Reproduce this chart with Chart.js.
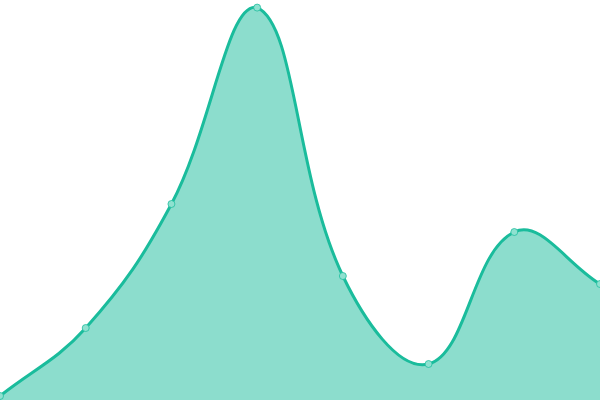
<!DOCTYPE html>
<html>
<head>
<meta charset="utf-8">
<script src="https://cdn.jsdelivr.net/npm/chart.js@4"></script>
<style>
html,body{margin:0;padding:0;background:#fff;}
#wrap{width:600px;height:400px;}
</style>
</head>
<body>
<div id="wrap"><canvas id="c"></canvas></div>
<script>
const categories = ["1","2","3","4","5","6","7","8"];
const values = [1, 18, 49, 98.1, 31, 9, 42, 29];
const yMin = 0;
const yMax = 100;

new Chart(document.getElementById('c'), {
  type: 'line',
  data: {
    labels: categories,
    datasets: [{
      data: values,
      fill: 'origin',
      backgroundColor: 'rgba(26,188,156,0.5)',
      borderColor: '#1abc9c',
      borderWidth: 3,
      tension: 0.4,
      pointRadius: 3.5,
      pointBorderWidth: 1,
      pointBackgroundColor: '#8fe1d0',
      pointBorderColor: 'rgba(26,188,156,0.75)'
    }]
  },
  options: {
    responsive: true,
    maintainAspectRatio: false,
    animation: false,
    layout: { padding: 0, autoPadding: false },
    plugins: { legend: { display: false }, tooltip: { enabled: false } },
    scales: {
      x: { display: false, offset: false },
      y: { display: false, min: yMin, max: yMax }
    }
  }
});
</script>
</body>
</html>
